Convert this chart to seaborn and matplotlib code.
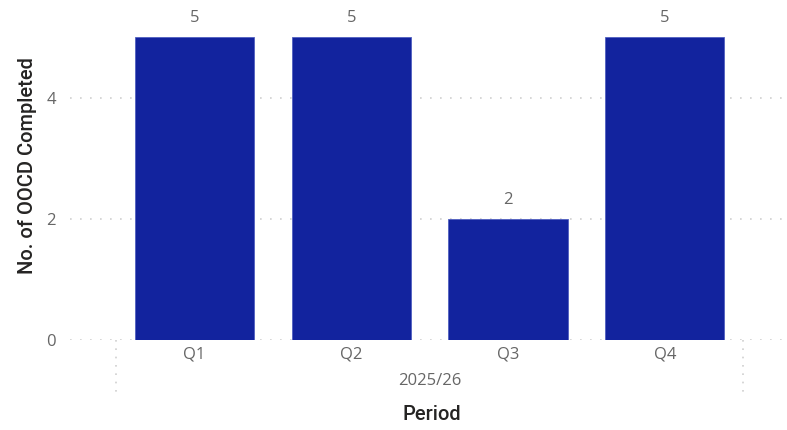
import matplotlib
matplotlib.use("Agg")
import matplotlib.pyplot as plt
import seaborn as sns
import pandas as pd

# Data
periods = ["Q1", "Q2", "Q3", "Q4"]
completed = [5, 5, 2, 5]
year_label = "2025/26"
y_ticks = [0, 2, 4]

sns.set_theme(style="white")
plt.rcParams["font.family"] = ["Open Sans", "DejaVu Sans"]

df = pd.DataFrame({"Period": periods, "Completed": completed})

fig = plt.figure(figsize=(7.87, 4.30), dpi=100)
ax = fig.add_axes([70 / 787, 90 / 430, 717 / 787, 310 / 430])

sns.barplot(data=df, x="Period", y="Completed", color="#12239E",
            saturation=1, width=0.76, ax=ax, zorder=3)
for p in ax.patches:
    p.set_edgecolor("#5060C0")
    p.set_linewidth(0.6)

ax.set_xlim(-0.795, 3.78)
ax.set_ylim(0, 5.12)
ax.set_yticks(y_ticks)
ax.set_yticklabels([str(v) for v in y_ticks])

# dotted horizontal gridlines
for v in y_ticks:
    ax.axhline(v, color="#CFCFCF", linestyle=(0, (1, 5)), linewidth=1.2, zorder=1)

for s in ax.spines.values():
    s.set_visible(False)

ax.tick_params(axis="both", length=0, labelsize=12, labelcolor="#666666")
ax.tick_params(axis="x", pad=5)
ax.tick_params(axis="y", pad=10)

# value labels above bars
for cont in ax.containers:
    ax.bar_label(cont, labels=[str(v) for v in completed], padding=8,
                 fontsize=12, color="#666666")

# group separators and hierarchy label beneath the quarter labels
xt = ax.get_xaxis_transform()
for xs in (-0.5, len(periods) - 0.5):
    ax.plot([xs, xs], [0, -0.187], transform=xt, clip_on=False,
            color="#CFCFCF", linestyle=(0, (1, 4)), linewidth=1.2)
ax.text((len(periods) - 1) / 2, -0.132, year_label, transform=xt,
        ha="center", va="center", fontsize=12, color="#666666")

ax.set_xlabel("")
ax.set_ylabel("")
fig.text(432 / 787, 1 - 415 / 430, "Period", ha="center", va="center",
         fontsize=14.5, color="#252423", family=["Roboto", "DejaVu Sans"],
         fontweight="medium")
fig.text(28 / 787, 1 - 166 / 430, "No. of OOCD Completed", ha="center",
         va="center", rotation=90, fontsize=14.5, color="#252423",
         family=["Roboto", "DejaVu Sans"], fontweight="medium")

fig.savefig("out.png", dpi=100)
